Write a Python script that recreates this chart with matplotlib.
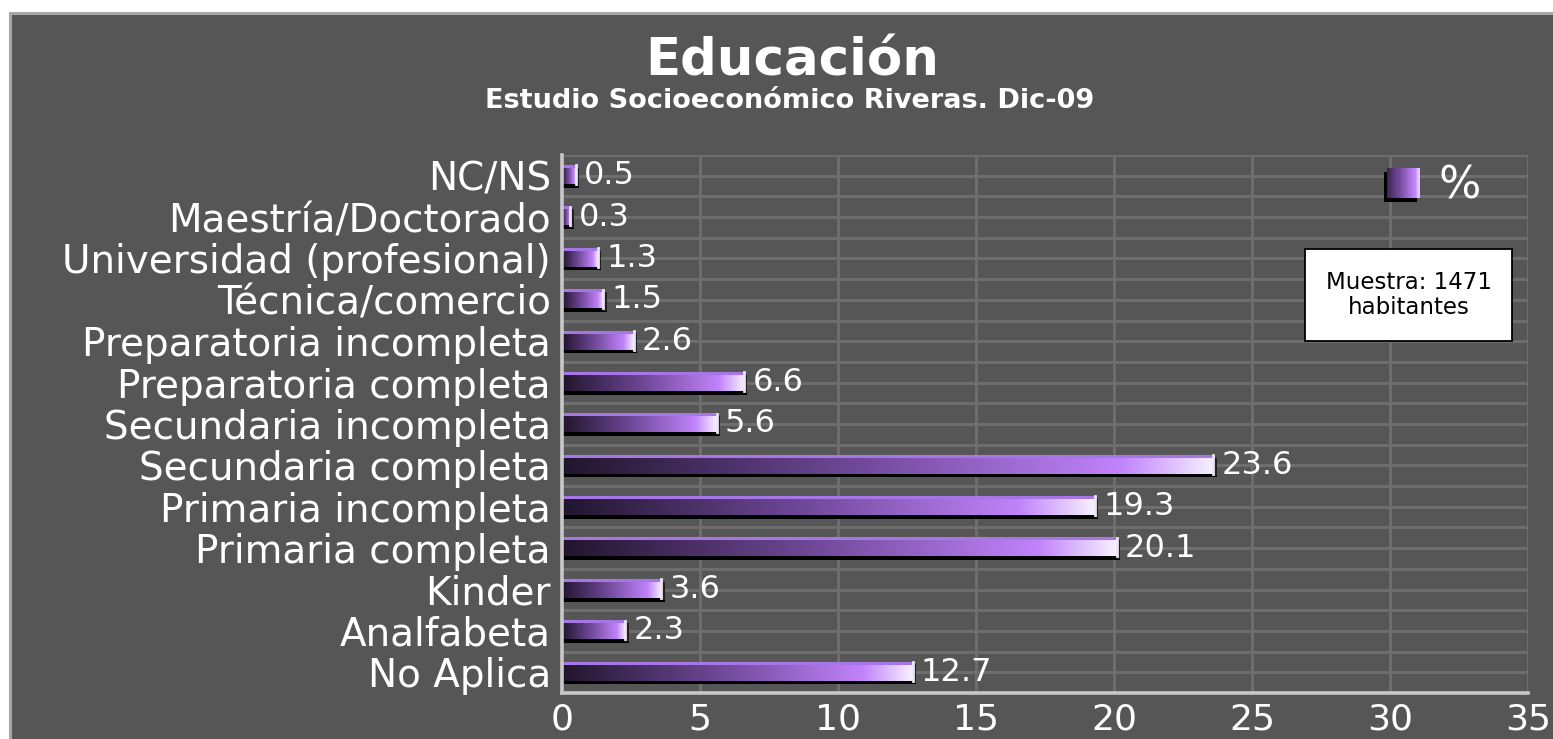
import numpy as np
import matplotlib
matplotlib.use('Agg')
import matplotlib.pyplot as plt
from matplotlib.colors import LinearSegmentedColormap
from matplotlib.patches import Rectangle
from matplotlib.legend_handler import HandlerBase

plt.rcParams['font.family'] = ['DejaVu Sans']

# ---- data ----
categories = ['No Aplica', 'Analfabeta', 'Kinder', 'Primaria completa',
              'Primaria incompleta', 'Secundaria completa', 'Secundaria incompleta',
              'Preparatoria completa', 'Preparatoria incompleta', 'Técnica/comercio',
              'Universidad (profesional)', 'Maestría/Doctorado', 'NC/NS']
values = [12.7, 2.3, 3.6, 20.1, 19.3, 23.6, 5.6, 6.6, 2.6, 1.5, 1.3, 0.3, 0.5]
xticks = [0, 5, 10, 15, 20, 25, 30, 35]
title = 'Educación'
subtitle = 'Estudio Socioeconómico Riveras. Dic-09'
series_name = '%'
note = 'Muestra: 1471\nhabitantes'

W, H = 1553, 739
BG = '#565656'
GRID = '#6e6e6e'
cmap = LinearSegmentedColormap.from_list(
    'bar', [(0.0, '#21152d'), (0.45, '#6f4898'), (0.86, '#c183fb'), (1.0, '#f6f0ff')])

fig = plt.figure(figsize=(W / 100, H / 100), dpi=100, facecolor='white')

# background panel with gray frame on top/left
fig.patches.append(Rectangle((10 / W, -0.05), 1.1, 1.05 - 12.5 / H,
                             transform=fig.transFigure, facecolor=BG,
                             edgecolor='#a8a8a8', lw=2.2, zorder=-5))

ax = fig.add_axes([562 / W, 1 - 693 / H, 966 / W, 538 / H])
ax.set_facecolor('none')

n = len(categories)
ypos = np.arange(n)

# grid
ax.hlines(np.arange(-0.5, n - 0.5 + 0.01, 0.5), 0, xticks[-1], color=GRID, lw=2.2, zorder=1)
ax.vlines(xticks[1:], -0.5, n - 0.5, color=GRID, lw=2.2, zorder=1)

grad = np.linspace(0, 1, 256).reshape(1, -1)
for y, v in zip(ypos, values):
    # shadow
    ax.add_patch(Rectangle((0, y - 0.29), v + 0.12, 0.12, facecolor='black', edgecolor='none', zorder=2))
    ax.add_patch(Rectangle((v, y - 0.26), 0.12, 0.45, facecolor='#202020', edgecolor='none', zorder=2))
    # body
    ax.imshow(grad, cmap=cmap, extent=[0, v, y - 0.2, y + 0.25], aspect='auto',
              interpolation='bilinear', zorder=3)
    ax.plot([0, v], [y + 0.235, y + 0.235], color='#a676e6', lw=2.2, zorder=4,
            solid_capstyle='butt')
    ax.plot([v, v], [y - 0.2, y + 0.25], color='#ece6f4', lw=2, zorder=4)
    ax.text(v + 0.3, y, f'{v}', color='white', fontsize=23, va='center', ha='left', zorder=5)

ax.set_xlim(0, xticks[-1])
ax.set_ylim(-0.5, n - 0.5)
ax.set_xticks(xticks)
ax.set_xticklabels([str(t) for t in xticks])
ax.set_yticks(ypos)
ax.set_yticklabels(categories)
ax.tick_params(axis='y', length=0, colors='white', labelsize=28, pad=8)
ax.tick_params(axis='x', length=0, colors='white', labelsize=26, pad=7)
for s in ['top', 'right']:
    ax.spines[s].set_visible(False)
for s in ['left', 'bottom']:
    ax.spines[s].set_color('#c8c8c8')
    ax.spines[s].set_linewidth(2.6)
    ax.spines[s].set_zorder(6)


class GradHandler(HandlerBase):
    def create_artists(self, legend, orig, xdescent, ydescent, width, height, fontsize, trans):
        arts = [Rectangle((-xdescent - 2, -ydescent - 3), width + 1, height,
                          facecolor='black', edgecolor='none', transform=trans)]
        k = 30
        for j in range(k):
            arts.append(Rectangle((-xdescent + width * j / k, -ydescent), width / k + 0.6, height,
                                  facecolor=cmap(0.15 + 0.8 * j / (k - 1)), edgecolor='none',
                                  transform=trans))
        return arts


proxy = Rectangle((0, 0), 1, 1)
leg = ax.legend([proxy], [series_name], handler_map={Rectangle: GradHandler()},
                loc='center', bbox_to_anchor=(1434 / W, 1 - 186 / H),
                bbox_transform=fig.transFigure, frameon=False, fontsize=32,
                handlelength=0.72, handleheight=0.66, handletextpad=0.45)
for t in leg.get_texts():
    t.set_color('white')

# note box
fig.patches.append(Rectangle((1305 / W, 1 - 341 / H), 207 / W, 92 / H, transform=fig.transFigure,
                             facecolor='white', edgecolor='black', lw=1.3, zorder=10))
fig.text(1409 / W, 1 - 295 / H, note, ha='center', va='center', fontsize=16.5,
         color='black', linespacing=1.08, zorder=11)

fig.text(792 / W, 1 - 62 / H, title, ha='center', va='center', fontsize=37,
         fontweight='bold', color='white')
fig.text(790 / W, 1 - 101 / H, subtitle, ha='center', va='center', fontsize=19.5,
         fontweight='bold', color='white')

fig.savefig('out.png', dpi=100, facecolor=fig.get_facecolor())
